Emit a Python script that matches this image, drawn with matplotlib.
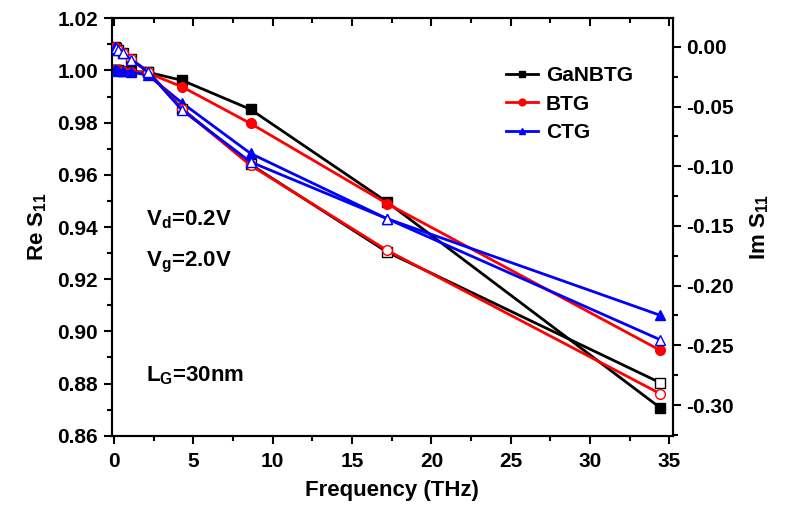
import matplotlib
matplotlib.use("Agg")
import matplotlib.pyplot as plt
from matplotlib.ticker import MultipleLocator, FormatStrFormatter

plt.rcParams['font.family'] = ['Liberation Sans', 'DejaVu Sans']
plt.rcParams['font.weight'] = 'bold'
plt.rcParams['mathtext.fontset'] = 'custom'
plt.rcParams['mathtext.rm'] = 'Liberation Sans:bold'
plt.rcParams['mathtext.it'] = 'Liberation Sans:bold'
plt.rcParams['mathtext.bf'] = 'Liberation Sans:bold'

# Frequency sweep (THz)
freq = [0.0336, 0.067, 0.134, 0.269, 0.538, 1.075, 2.15, 4.3, 8.6, 17.2, 34.4]

# Real part of S11 (left axis)
re_ganbtg = [1.0000, 1.0000, 1.0000, 1.0000, 0.9999, 0.9997, 0.9993, 0.9962, 0.9851, 0.9496, 0.8708]
re_btg    = [1.0000, 1.0000, 1.0000, 1.0000, 0.9999, 0.9996, 0.9990, 0.9937, 0.9797, 0.9490, 0.8928]
re_ctg    = [1.0000, 1.0000, 1.0000, 0.9999, 0.9998, 0.9994, 0.9982, 0.9875, 0.9682, 0.9432, 0.9062]

# Imaginary part of S11 (right axis)
im_ganbtg = [-0.0003, -0.0006, -0.0013, -0.0026, -0.0052, -0.0104, -0.0208, -0.0520, -0.0985, -0.1718, -0.2812]
im_btg    = [-0.0003, -0.0006, -0.0013, -0.0026, -0.0052, -0.0104, -0.0208, -0.0522, -0.0992, -0.1704, -0.2904]
im_ctg    = [-0.0003, -0.0006, -0.0013, -0.0027, -0.0053, -0.0106, -0.0212, -0.0532, -0.0964, -0.1439, -0.2452]

names = ['GaNBTG', 'BTG', 'CTG']
colors = ['black', '#ff0000', '#0000ff']
markers = ['s', 'o', '^']

fig = plt.figure(figsize=(7.87, 5.13), dpi=100)
ax = fig.add_axes([0.1423, 0.1507, 0.7125, 0.8136])
ax2 = ax.twinx()

for re, im, name, c, m in zip([re_ganbtg, re_btg, re_ctg], [im_ganbtg, im_btg, im_ctg],
                              names, colors, markers):
    ax.plot(freq, re, color=c, marker=m, markersize=7, lw=2, label=name, zorder=3)
    ax2.plot(freq, im, color=c, marker=m, markersize=7, lw=2,
             markerfacecolor='white', markeredgewidth=1.0, zorder=3)

ax.set_xlim(-0.13, 35.21)
ax.set_ylim(0.86, 1.02)
ax2.set_ylim(-0.3257, 0.0239)

ax.xaxis.set_major_locator(MultipleLocator(5))
ax.xaxis.set_minor_locator(MultipleLocator(2.5))
ax.yaxis.set_major_locator(MultipleLocator(0.02))
ax.yaxis.set_minor_locator(MultipleLocator(0.01))
ax2.yaxis.set_major_locator(MultipleLocator(0.05))
ax2.yaxis.set_minor_locator(MultipleLocator(0.025))

ax.yaxis.set_major_formatter(FormatStrFormatter('%.2f'))
ax2.yaxis.set_major_formatter(FormatStrFormatter('%.2f'))

ax.tick_params(axis='x', which='both', direction='out', top=True, labelsize=15, width=1.5, pad=6)
ax.tick_params(axis='y', which='both', direction='out', labelsize=15, width=1.5, pad=4)
ax.tick_params(which='major', length=6)
ax.tick_params(which='minor', length=3.5)
ax2.tick_params(axis='y', which='both', direction='out', labelsize=15, width=1.5, pad=4)
ax2.tick_params(which='major', length=6)
ax2.tick_params(which='minor', length=3.5)
# top ticks point into the plot
for t in ax.xaxis.get_major_ticks() + ax.xaxis.get_minor_ticks():
    t.tick2line.set_marker(matplotlib.lines.TICKDOWN)

for a in (ax, ax2):
    for s in a.spines.values():
        s.set_linewidth(1.5)

ax.set_xlabel('Frequency (THz)', fontsize=16, fontweight='bold', labelpad=6)
ax.set_ylabel('Re S$_{11}$', fontsize=16, fontweight='bold', labelpad=6)
ax2.set_ylabel('Im S$_{11}$', fontsize=16, fontweight='bold', labelpad=10)

ax.text(0.06, 0.517, 'V$_{d}$=0.2V', transform=ax.transAxes, fontsize=16,
        fontweight='bold', va='center')
ax.text(0.06, 0.414, 'V$_{g}$=2.0V', transform=ax.transAxes, fontsize=16,
        fontweight='bold', va='center')
ax.text(0.06, 0.143, 'L$_{G}$=30nm', transform=ax.transAxes, fontsize=16,
        fontweight='bold', va='center')

leg = ax.legend(loc='upper left', bbox_to_anchor=(0.67, 0.93), frameon=False,
                fontsize=15, handlelength=1.5, handletextpad=0.4,
                labelspacing=0.45, markerscale=0.7)

fig.savefig('out.png', dpi=100, facecolor='white')
